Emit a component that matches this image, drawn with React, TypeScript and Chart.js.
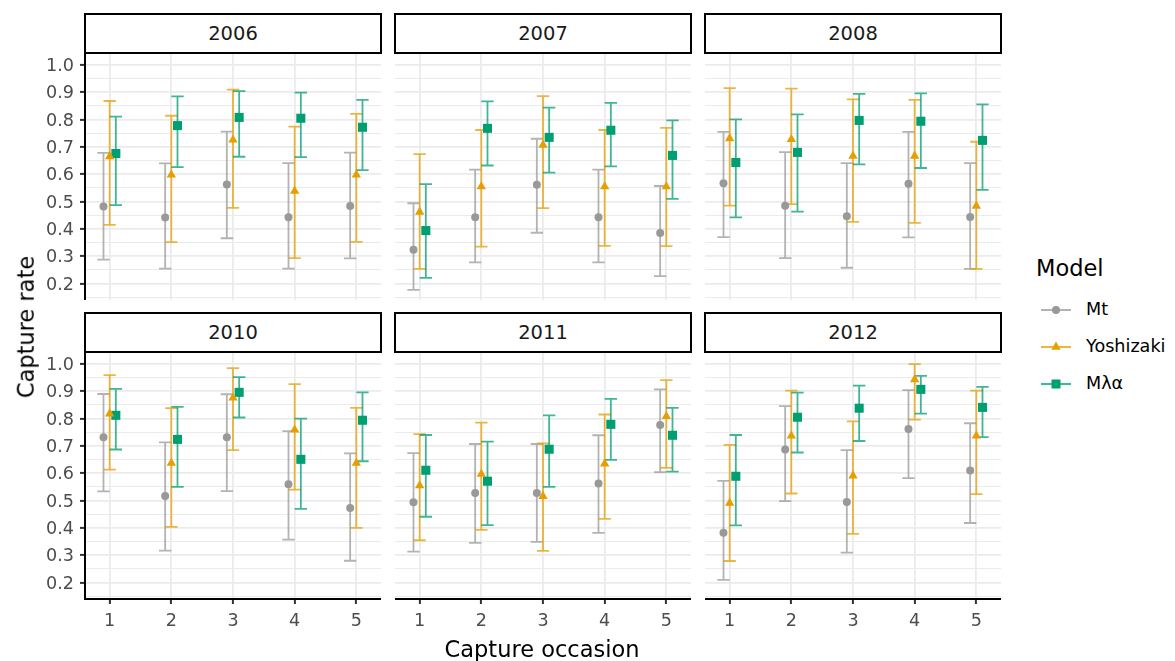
import React, { useEffect, useRef } from "react";
import { Chart, registerables } from "chart.js";
Chart.register(...registerables);

// ---------- data ----------
const years = ["2006", "2007", "2008", "2010", "2011", "2012"];
const occasions = [1, 2, 3, 4, 5];
const models = ["Mt", "Yoshizaki", "Mλα"];
const yMajorTicks = [0.2, 0.3, 0.4, 0.5, 0.6, 0.7, 0.8, 0.9, 1.0];
const yTickLabels = ["0.2", "0.3", "0.4", "0.5", "0.6", "0.7", "0.8", "0.9", "1.0"];
const yMinorTicks = [0.15, 0.25, 0.35, 0.45, 0.55, 0.65, 0.75, 0.85, 0.95];
const xTickLabels = ["1", "2", "3", "4", "5"];

// rows = years, columns = capture occasions
const mtEst = [
  [0.482, 0.442, 0.563, 0.443, 0.484],
  [0.324, 0.443, 0.562, 0.443, 0.385],
  [0.567, 0.485, 0.446, 0.565, 0.444],
  [0.732, 0.517, 0.732, 0.56, 0.473],
  [0.494, 0.528, 0.528, 0.563, 0.777],
  [0.382, 0.687, 0.495, 0.762, 0.61],
];
const mtLo = [
  [0.288, 0.255, 0.366, 0.255, 0.292],
  [0.177, 0.278, 0.386, 0.278, 0.227],
  [0.37, 0.293, 0.258, 0.369, 0.254],
  [0.534, 0.317, 0.535, 0.357, 0.28],
  [0.313, 0.345, 0.349, 0.382, 0.604],
  [0.21, 0.498, 0.31, 0.582, 0.418],
];
const mtHi = [
  [0.678, 0.64, 0.756, 0.641, 0.679],
  [0.494, 0.617, 0.73, 0.617, 0.557],
  [0.755, 0.681, 0.641, 0.755, 0.641],
  [0.89, 0.713, 0.889, 0.754, 0.673],
  [0.674, 0.707, 0.707, 0.739, 0.907],
  [0.572, 0.846, 0.685, 0.904, 0.783],
];
const yoEst = [
  [0.665, 0.598, 0.726, 0.539, 0.598],
  [0.462, 0.555, 0.707, 0.555, 0.555],
  [0.731, 0.728, 0.667, 0.667, 0.484],
  [0.818, 0.637, 0.876, 0.759, 0.637],
  [0.555, 0.597, 0.516, 0.635, 0.808],
  [0.491, 0.737, 0.591, 0.943, 0.737],
];
const yoLo = [
  [0.415, 0.352, 0.477, 0.293, 0.353],
  [0.254, 0.335, 0.476, 0.338, 0.337],
  [0.485, 0.491, 0.426, 0.422, 0.254],
  [0.613, 0.404, 0.685, 0.54, 0.4],
  [0.355, 0.393, 0.316, 0.433, 0.62],
  [0.279, 0.526, 0.378, 0.796, 0.524],
];
const yoHi = [
  [0.868, 0.814, 0.91, 0.774, 0.821],
  [0.674, 0.762, 0.886, 0.762, 0.77],
  [0.915, 0.913, 0.874, 0.872, 0.719],
  [0.959, 0.838, 0.985, 0.926, 0.839],
  [0.743, 0.785, 0.709, 0.815, 0.941],
  [0.704, 0.902, 0.79, 0.999, 0.902],
];
const mlEst = [
  [0.676, 0.778, 0.808, 0.805, 0.772],
  [0.394, 0.768, 0.735, 0.761, 0.669],
  [0.643, 0.68, 0.797, 0.794, 0.724],
  [0.812, 0.724, 0.896, 0.651, 0.794],
  [0.611, 0.571, 0.688, 0.779, 0.739],
  [0.589, 0.805, 0.838, 0.907, 0.841],
];
const mlLo = [
  [0.487, 0.626, 0.664, 0.663, 0.615],
  [0.221, 0.632, 0.606, 0.629, 0.51],
  [0.442, 0.463, 0.636, 0.623, 0.543],
  [0.687, 0.55, 0.804, 0.47, 0.644],
  [0.441, 0.41, 0.55, 0.649, 0.606],
  [0.409, 0.676, 0.718, 0.818, 0.732],
];
const mlHi = [
  [0.811, 0.885, 0.904, 0.899, 0.872],
  [0.564, 0.867, 0.844, 0.861, 0.797],
  [0.801, 0.819, 0.894, 0.896, 0.856],
  [0.909, 0.843, 0.952, 0.8, 0.896],
  [0.74, 0.716, 0.812, 0.872, 0.839],
  [0.74, 0.895, 0.921, 0.956, 0.916],
];

// ---------- styling ----------
const FONT = '"DejaVu Sans", sans-serif';
const colors = ["#999999", "#E69F00", "#009E73"];
const errColors = ["rgba(153,153,153,0.75)", "rgba(230,159,0,0.75)", "rgba(0,158,115,0.75)"];
const pointStyles = ["circle", "triangle", "rect"];
const pointRadii = [4, 5.4, 6.4];
const dodge = [-0.1, 0, 0.1];
const CAP_HALF = 0.1;

const PANEL_LEFT = [85, 395, 705];
const PANEL_TOP = [54, 353];
const PANEL_W = 296;
const PANEL_H = 246;
const Y_MIN = 0.14;
const Y_MAX = 1.04;

const estAll = [mtEst, yoEst, mlEst];
const loAll = [mtLo, yoLo, mlLo];
const hiAll = [mtHi, yoHi, mlHi];

const isMajor = (v: number) => yMajorTicks.some((m) => Math.abs(m - v) < 1e-6);

const zeroPad = (s: any) => {
  s.paddingTop = 0;
  s.paddingBottom = 0;
  s.paddingLeft = 0;
  s.paddingRight = 0;
};

const errorBarPlugin = {
  id: "errbars",
  beforeDatasetsDraw(chart: any) {
    const { ctx, chartArea } = chart;
    const x = chart.scales.x;
    const y = chart.scales.y;
    ctx.save();
    ctx.beginPath();
    ctx.rect(chartArea.left, chartArea.top, chartArea.right - chartArea.left, chartArea.bottom - chartArea.top);
    ctx.clip();
    chart.data.datasets.forEach((ds: any) => {
      ctx.strokeStyle = ds.errColor;
      ctx.lineWidth = 1.8;
      ctx.lineCap = "butt";
      ds.data.forEach((p: any) => {
        const px = x.getPixelForValue(p.x);
        const pl = y.getPixelForValue(p.lo);
        const ph = y.getPixelForValue(p.hi);
        const hw = x.getPixelForValue(p.x + CAP_HALF) - px;
        ctx.beginPath();
        ctx.moveTo(px, pl);
        ctx.lineTo(px, ph);
        ctx.moveTo(px - hw, pl);
        ctx.lineTo(px + hw, pl);
        ctx.moveTo(px - hw, ph);
        ctx.lineTo(px + hw, ph);
        ctx.stroke();
      });
    });
    ctx.restore();
  },
};

function Panel({ index }: { index: number }) {
  const ref = useRef<HTMLCanvasElement | null>(null);
  const col = index % 3;
  const row = Math.floor(index / 3);
  const showY = col === 0;
  const showX = row === 1;
  const yw = showY ? PANEL_LEFT[0] : 0;
  const xh = showX ? 44 : 0;
  const left = PANEL_LEFT[col] - yw;
  const top = PANEL_TOP[row];
  const w = yw + PANEL_W;
  const h = PANEL_H + xh;

  useEffect(() => {
    const datasets = models.map((m, mi) => ({
      label: m,
      data: occasions.map((o, oi) => ({
        x: o + dodge[mi],
        y: estAll[mi][index][oi],
        lo: loAll[mi][index][oi],
        hi: hiAll[mi][index][oi],
      })),
      pointStyle: pointStyles[mi],
      pointRadius: pointRadii[mi],
      pointBackgroundColor: colors[mi],
      pointBorderWidth: 0,
      showLine: false,
      clip: false,
      errColor: errColors[mi],
    }));
    const chart = new Chart(ref.current as HTMLCanvasElement, {
      type: "scatter",
      data: { datasets } as any,
      options: {
        responsive: false,
        animation: false,
        events: [],
        layout: { padding: 0, autoPadding: false } as any,
        plugins: { legend: { display: false }, tooltip: { enabled: false }, title: { display: false } },
        scales: {
          x: {
            type: "linear",
            position: "bottom",
            min: 0.6,
            max: 5.4,
            afterBuildTicks: (s: any) => {
              s.ticks = occasions.map((v) => ({ value: v }));
            },
            afterFit: (s: any) => {
              s.height = xh;
              zeroPad(s);
            },
            grid: {
              color: "#ebebeb",
              lineWidth: 1.8,
              drawTicks: showX,
              tickLength: 5,
              tickWidth: 2,
              tickColor: "#333333",
            },
            border: { display: showX, color: "#000000", width: 2 },
            ticks: {
              display: showX,
              color: "#4d4d4d",
              font: { family: FONT, size: 17.6 },
              padding: 7,
              autoSkip: false,
              maxRotation: 0,
              callback: (v: any) => xTickLabels[occasions.indexOf(Number(v))] ?? "",
            },
          },
          y: {
            type: "linear",
            position: "left",
            min: Y_MIN,
            max: Y_MAX,
            afterBuildTicks: (s: any) => {
              s.ticks = [...yMinorTicks, ...yMajorTicks].sort((a, b) => a - b).map((v) => ({ value: v }));
            },
            afterFit: (s: any) => {
              s.width = yw;
              zeroPad(s);
            },
            grid: {
              color: "#ebebeb",
              lineWidth: (c: any) => (isMajor(c.tick?.value) ? 1.8 : 1.1),
              drawTicks: showY,
              tickLength: 5,
              tickWidth: 2,
              tickColor: (c: any) => (isMajor(c.tick?.value) ? "#333333" : "rgba(0,0,0,0)"),
            } as any,
            border: { display: showY, color: "#000000", width: 2 },
            ticks: {
              display: showY,
              color: "#4d4d4d",
              font: { family: FONT, size: 17.6 },
              padding: 6,
              labelOffset: 1.5,
              autoSkip: false,
              callback: (v: any) => {
                const i = yMajorTicks.findIndex((m) => Math.abs(m - Number(v)) < 1e-6);
                return i >= 0 ? yTickLabels[i] : "";
              },
            },
          },
        },
      } as any,
      plugins: [errorBarPlugin],
    });
    return () => chart.destroy();
  }, []);

  return (
    <div style={{ position: "absolute", left, top, width: w, height: h }}>
      <canvas ref={ref} width={w} height={h} style={{ width: w, height: h, display: "block" }} />
    </div>
  );
}

function Strip({ index }: { index: number }) {
  const col = index % 3;
  const row = Math.floor(index / 3);
  const top = PANEL_TOP[row] - 41;
  return (
    <div
      style={{
        position: "absolute",
        left: PANEL_LEFT[col] - 1,
        top,
        width: PANEL_W + 2,
        height: 41,
        boxSizing: "border-box",
        border: "2.2px solid #000",
        background: "#fff",
        display: "flex",
        alignItems: "center",
        justifyContent: "center",
        fontFamily: FONT,
        fontSize: 19.5,
        color: "#1a1a1a",
        lineHeight: 1,
      }}
    >
      {years[index]}
    </div>
  );
}

function LegendKey({ mi, cy }: { mi: number; cy: number }) {
  const cx = 1055.7;
  let shape: any = null;
  if (mi === 0) shape = <circle cx={15} cy={10} r={4} fill={colors[0]} />;
  if (mi === 1)
    shape = <polygon points={`15,${10 - 5.4} ${15 + 4.68},${10 + 2.7} ${15 - 4.68},${10 + 2.7}`} fill={colors[1]} />;
  if (mi === 2) shape = <rect x={15 - 4.5} y={10 - 4.5} width={9} height={9} fill={colors[2]} />;
  return (
    <>
      <svg
        width={30}
        height={20}
        style={{ position: "absolute", left: cx - 15, top: cy - 10, overflow: "visible" }}
      >
        <line x1={0} y1={10} x2={30} y2={10} stroke={errColors[mi]} strokeWidth={2} />
        {shape}
      </svg>
      <div
        style={{
          position: "absolute",
          left: 1086,
          top: cy - 8.6,
          fontFamily: FONT,
          fontSize: 17.6,
          lineHeight: 1,
          color: "#000",
          whiteSpace: "nowrap",
        }}
      >
        {models[mi]}
      </div>
    </>
  );
}

export default function App() {
  const legendRows = [309.7, 346.7, 384];
  return (
    <div
      style={{
        position: "fixed",
        left: 0,
        top: 0,
        width: 1175,
        height: 661,
        background: "#ffffff",
        overflow: "hidden",
        fontFamily: FONT,
      }}
    >
      {years.map((y, i) => (
        <Panel key={"p" + y} index={i} />
      ))}
      {years.map((y, i) => (
        <Strip key={"s" + y} index={i} />
      ))}
      <div
        style={{
          position: "absolute",
          left: 25.7,
          top: 326.5,
          transform: "translate(-50%, -50%) rotate(-90deg)",
          fontSize: 22.5,
          lineHeight: 1,
          whiteSpace: "nowrap",
          color: "#000",
        }}
      >
        Capture rate
      </div>
      <div
        style={{
          position: "absolute",
          left: 542,
          top: 638,
          transform: "translateX(-50%)",
          fontSize: 22.5,
          lineHeight: 1,
          whiteSpace: "nowrap",
          color: "#000",
        }}
      >
        Capture occasion
      </div>
      <div
        style={{
          position: "absolute",
          left: 1036,
          top: 257.4,
          fontSize: 22.5,
          lineHeight: 1,
          whiteSpace: "nowrap",
          color: "#000",
        }}
      >
        Model
      </div>
      {models.map((m, mi) => (
        <LegendKey key={m} mi={mi} cy={legendRows[mi]} />
      ))}
    </div>
  );
}
